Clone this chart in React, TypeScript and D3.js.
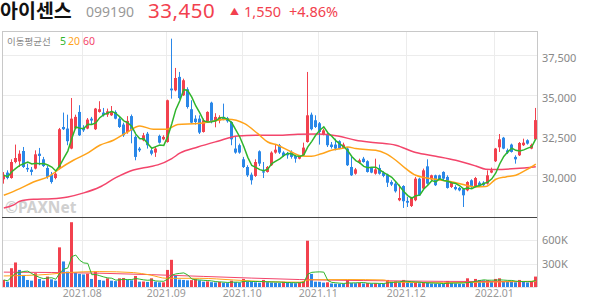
import React from 'react';
import * as d3 from 'd3';

const opens = [29750,30170,29830,30830,30870,31520,30460,30350,30420,31350,31000,30460,30040,29830,30420,33020,32920,31670,32920,33960,
32960,32920,33540,32880,33960,33920,33790,33750,33960,33540,33170,32700,33700,32400,31670,32190,32600,31560,31420,32460,
32250,32080,35420,35310,36150,35000,35380,34130,33540,33540,32710,33380,34540,33380,33420,33650,33580,33330,31670,31880,
31000,30520,30040,29960,31500,30250,30210,30630,31420,31880,31420,31350,31460,31210,31040,31250,32080,33790,33440,33250,
32540,32580,31920,31920,32130,31710,31670,30520,30100,30790,31040,30880,30460,30100,30460,30170,30040,29580,29480,28440,
29330,28400,28080,28440,29790,29170,30560,29750,30000,30000,30210,29900,29270,29270,29210,29130,29060,29690,29330,29540,
29540,29480,30170,30880,31750,32350,31560,31920,31150,31250,31880,32190,31670,32250];
const highs = [30200,30310,31000,31920,31560,31770,30730,30520,31560,31710,31150,30580,30210,30250,32960,33920,33790,34830,33790,34380,
33130,33580,33650,34210,34630,34210,34170,34330,34060,33650,33290,33700,33800,32500,31770,32650,32710,31670,31770,32540,
32500,34730,38540,36710,36460,36040,35500,34690,33750,33750,33540,34000,34600,33880,33750,34480,33650,33380,32400,31980,
31150,30630,30170,31000,31560,30830,30580,31500,31960,31960,31500,31460,31560,31290,31250,32040,36460,33920,33750,33330,
32920,32710,32080,32290,32190,32040,31770,31150,30460,31040,31150,30940,30520,31040,30670,30250,30100,29690,29580,29420,
29380,28650,28650,29900,29850,30420,31000,30040,30040,30040,30250,30000,29630,29380,29270,29210,29630,29750,29900,29630,
29630,30310,30480,31710,32580,32400,31670,31980,31250,32080,32290,32250,31980,34210];
const lows = [29480,29750,29790,30750,30520,30460,30210,30000,30370,30630,30520,29790,29480,29750,30370,32830,31880,31630,32880,32460,
32710,32880,33170,32830,33920,33670,33650,33710,33500,32960,32400,32600,32000,30940,31460,32130,31670,31250,31150,31980,
32190,32040,34790,35250,34750,34960,34170,33230,33170,32580,32670,33330,33250,33000,33250,33440,33290,31880,31350,31350,
30460,29900,29420,29900,30580,29830,30170,30580,31350,31330,31150,31040,31040,30790,31000,31210,32040,32810,32960,31920,
32500,31770,31670,31560,31630,31670,30580,29960,30040,30730,30790,30170,30130,30040,30040,29880,29270,29330,28920,28380,
27960,28020,28020,28380,28710,29130,29420,29690,29330,29690,29690,29170,29210,29060,29000,28020,29000,29210,29270,29270,
29330,29420,30130,30830,31460,31630,31330,31420,30730,31210,31830,31920,31630,32210];
const closes = [30000,29830,30830,31080,31350,30520,30370,30210,31310,31210,30580,29900,29580,30100,32880,32880,32130,33540,33650,32500,
32810,33480,33420,34170,34130,33750,34000,33960,33540,33020,32500,33400,32800,31150,31560,32500,31880,31350,31670,32040,
32400,34690,35310,36080,34830,35940,34270,33290,33330,32670,33440,33960,33330,33650,33630,33500,33380,32250,31420,31420,
30520,30000,29690,30830,30730,30170,30520,31420,31600,31420,31210,31250,31150,31040,31210,31730,33750,32880,33020,32710,
32810,31880,31770,31670,31670,31920,30630,30000,30370,30940,30830,30210,30170,30370,30100,29960,29540,29420,29000,28580,
28380,28290,28580,29790,28750,30310,29480,30000,29380,29750,29790,29210,29540,29130,29060,28750,29580,29270,29830,29380,
29380,30000,30310,31670,32250,31670,31420,31460,31000,32020,32040,31980,31900,33450];
// volume in thousands of shares
const volumes = [90,68,240,313,218,154,90,81,176,103,81,133,98,81,506,326,197,827,184,167,
160,170,103,197,90,81,111,81,75,111,115,90,85,141,68,70,65,111,68,60,
60,218,347,150,95,90,85,88,100,85,68,72,62,58,65,55,50,81,62,55,
103,70,65,60,55,90,62,58,55,50,68,55,50,48,55,75,591,167,68,66,
56,60,45,42,40,38,90,50,48,52,45,50,44,48,42,40,90,68,72,60,
90,68,50,55,48,58,52,45,42,40,38,77,50,45,42,40,111,68,103,90,
85,86,70,103,111,70,68,66,60,90,68,58,75,133];

const monthIdx = [20, 41, 60, 79, 101, 123];
const monthLabels = ['2021.08', '2021.09', '2021.10', '2021.11', '2021.12', '2022.01'];
const priceTicks = [30000, 32500, 35000, 37500];
const volTicks = [300, 600];

const ma20Idx = [0, 4, 7.4, 11.5, 14, 17.4, 20.7, 24, 27.4, 30.7, 34, 37.4, 40.7, 43.5, 48.5, 56, 60.2, 63.5, 66, 68.5, 71.9, 74.4, 76.9, 79.4, 81.9, 84.4, 86, 88, 93, 95.5, 98, 100.5, 103, 108, 113, 118, 120.5, 123, 125.5, 128, 130.5, 133];
const ma20Val = [28750, 29170, 29580, 29960, 30420, 30940, 31350, 31880, 32190, 32670, 33080, 32880, 32880, 33180, 33230, 33500, 33230, 32600, 32080, 31880, 31460, 31210, 31190, 31350, 31560, 31670, 31770, 31670, 31560, 31350, 30940, 30420, 30000, 29750, 29540, 29270, 29300, 29750, 29900, 30000, 30320, 30700];
const ma60Idx = [0, 2.5, 4, 7.4, 12, 16, 20, 24, 28, 32.4, 36.5, 38.5, 42, 44, 48.5, 53.5, 58.5, 63.5, 68.5, 73.5, 78.5, 83.5, 88, 93, 98, 103, 108, 113, 118, 120.5, 123, 128, 133];
const ma60Val = [27960, 28150, 28380, 28500, 28540, 28650, 28900, 29270, 29850, 30330, 30540, 30650, 31040, 31380, 31770, 32130, 32460, 32500, 32500, 32560, 32580, 32460, 32190, 32040, 31880, 31420, 31190, 30940, 30580, 30380, 30360, 30420, 30540];
const volMa20Idx = [0, 11.5, 15.7, 24, 32.4, 36.5, 40.7, 49, 57.4, 65.7, 74, 76.5, 86, 95, 97, 110, 124, 133];
const volMa20Val = [141, 163, 184, 197, 184, 154, 111, 111, 90, 68, 62, 92, 95, 90, 62, 55, 65, 75];
const volMa60Idx = [0, 24, 50, 74, 90, 110, 133];
const volMa60Val = [190, 176, 135, 95, 82, 72, 68];

const RED = '#f2414e';
const BLUE = '#2a87e8';
const GREEN = '#2fb52c';
const ORANGE = '#ffa31a';
const PINK = '#f3456b';

const L = 2, R = 537, TOP = 31, MID = 217, BOT = 287;

export default function App() {
  const N = closes.length;
  const x = d3.scaleLinear().domain([0, N - 1]).range([3.8, 3.8 + 4 * (N - 1)]);
  const y = d3.scaleLinear().domain([30000, 37500]).range([175.3, 55.3]);
  const yv = d3.scaleLinear().domain([0, 600]).range([BOT, 240]);

  const ma5 = closes.map((_, i) => d3.mean(closes.slice(Math.max(0, i - 4), i + 1)) as number);
  const vma5 = volumes.map((_, i) => d3.mean(volumes.slice(Math.max(0, i - 4), i + 1)) as number);

  const priceLine = d3.line<[number, number]>().x(d => x(d[0])).y(d => y(d[1])).curve(d3.curveMonotoneX);
  const volLine = d3.line<[number, number]>().x(d => x(d[0])).y(d => yv(d[1])).curve(d3.curveMonotoneX);
  const zip = (a: number[], b: number[]) => a.map((v, i) => [v, b[i]] as [number, number]);

  const ma5Path = d3.line<number>().x((_, i) => x(i)).y(d => y(d))(ma5) as string;
  const vma5Path = d3.line<number>().x((_, i) => x(i)).y(d => yv(d))(vma5) as string;

  const sans = '"Noto Sans", "Noto Sans CJK KR", sans-serif';
  const kr = '"Noto Sans CJK KR", "Noto Sans", sans-serif';

  return (
    <svg width={594} height={304} style={{ position: 'absolute', left: 0, top: 0, background: '#fff' }}>
      <defs>
        <clipPath id="pc"><rect x={L} y={TOP} width={R - L} height={MID - TOP} /></clipPath>
        <clipPath id="vc"><rect x={L} y={MID} width={R - L} height={BOT - MID} /></clipPath>
      </defs>
      {/* header */}
      <text x={0} y={17.5} fontFamily={kr} fontWeight={700} fontSize={19.5} fill="#111">아이센스</text>
      <text x={86} y={17.2} fontFamily={sans} fontSize={14} fill="#999">099190</text>
      <text x={148} y={17.5} fontFamily={sans} fontSize={20.5} fill={RED} letterSpacing={0.5}>33,450</text>
      <text x={230} y={15.4} fontFamily={sans} fontSize={9} fill={RED}>▲</text>
      <text x={244} y={17.2} fontFamily={sans} fontSize={14.5} fill={RED}>1,550</text>
      <text x={289} y={17.2} fontFamily={sans} fontSize={14.5} fill={RED}>+4.86%</text>

      {/* grid */}
      {priceTicks.map(t => (
        <line key={'pg' + t} x1={L} x2={R} y1={Math.round(y(t)) + 0.5} y2={Math.round(y(t)) + 0.5} stroke="#ececec" />
      ))}
      {volTicks.map(t => (
        <line key={'vg' + t} x1={L} x2={R} y1={Math.round(yv(t)) + 0.5} y2={Math.round(yv(t)) + 0.5} stroke="#ececec" />
      ))}
      {monthIdx.map(i => (
        <line key={'mg' + i} x1={Math.round(x(i) - 1.5) + 0.5} x2={Math.round(x(i) - 1.5) + 0.5} y1={TOP} y2={BOT} stroke="#ececec" />
      ))}

      {/* watermark */}
      <text x={5} y={212.5} fontFamily={sans} fontWeight={700} fontSize={15.5} fill="#d0d0d0">©PAXNet</text>

      {/* legend */}
      <text x={7} y={45} fontFamily={kr} fontSize={9.5} fill="#888">이동평균선</text>
      <text x={60} y={45} fontFamily={sans} fontSize={10.5} fill={GREEN}>5</text>
      <text x={68} y={45} fontFamily={sans} fontSize={10.5} fill={ORANGE}>20</text>
      <text x={83} y={45} fontFamily={sans} fontSize={10.5} fill={PINK}>60</text>

      {/* candles */}
      <g clipPath="url(#pc)">
        {closes.map((c, i) => {
          const o = opens[i];
          const up = c >= o;
          const col = up ? RED : BLUE;
          const bx = Math.round(x(i) - 1.5);
          const top = y(Math.max(o, c));
          const bh = Math.max(1, y(Math.min(o, c)) - top);
          return (
            <g key={'c' + i}>
              <rect x={bx + 1} y={y(highs[i])} width={1} height={y(lows[i]) - y(highs[i])} fill={col} />
              <rect x={bx} y={top} width={3} height={bh} fill={col} />
            </g>
          );
        })}
        <path d={priceLine(zip(ma60Idx, ma60Val)) as string} fill="none" stroke={PINK} strokeWidth={1.5} />
        <path d={priceLine(zip(ma20Idx, ma20Val)) as string} fill="none" stroke={ORANGE} strokeWidth={1.5} />
        <path d={ma5Path} fill="none" stroke={GREEN} strokeWidth={1.5} />
      </g>

      {/* volume */}
      <g clipPath="url(#vc)">
        {volumes.map((v, i) => {
          const up = i === 0 ? true : v >= volumes[i - 1];
          return <rect key={'v' + i} x={Math.round(x(i) - 1.5)} y={yv(v)} width={3} height={BOT - yv(v)} fill={up ? RED : BLUE} />;
        })}
        <path d={volLine(zip(volMa60Idx, volMa60Val)) as string} fill="none" stroke={PINK} strokeWidth={1} />
        <path d={volLine(zip(volMa20Idx, volMa20Val)) as string} fill="none" stroke={ORANGE} strokeWidth={1} />
        <path d={vma5Path} fill="none" stroke={GREEN} strokeWidth={1} />
      </g>

      {/* frame */}
      <line x1={L} x2={R} y1={TOP + 0.5} y2={TOP + 0.5} stroke="#c8c8c8" />
      <line x1={L + 0.5} x2={L + 0.5} y1={TOP} y2={BOT} stroke="#c8c8c8" />
      <line x1={R + 0.5} x2={R + 0.5} y1={TOP} y2={BOT} stroke="#c8c8c8" />
      <line x1={L} x2={R} y1={MID + 0.5} y2={MID + 0.5} stroke="#444" />
      <line x1={L} x2={R} y1={BOT + 0.5} y2={BOT + 0.5} stroke="#e4e4e4" />

      {/* axis labels */}
      {priceTicks.map(t => (
        <text key={'pl' + t} x={542} y={y(t) + 6.3} fontFamily={sans} fontSize={11} fill="#888">{d3.format(',')(t)}</text>
      ))}
      {volTicks.map(t => (
        <text key={'vl' + t} x={542} y={yv(t) + 4} fontFamily={sans} fontSize={11} fill="#888">{t + 'K'}</text>
      ))}
      {monthIdx.map((i, k) => (
        <text key={'ml' + i} x={x(i) - 1.5} y={297} textAnchor="middle" fontFamily={sans} fontSize={10.5} fill="#999">{monthLabels[k]}</text>
      ))}
    </svg>
  );
}
